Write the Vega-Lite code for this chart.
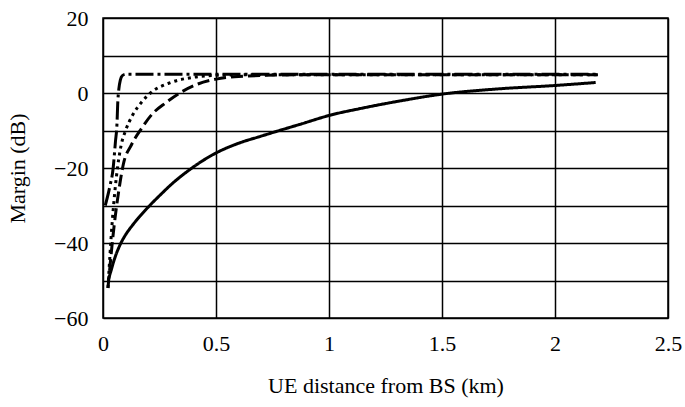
{
  "$schema": "https://vega.github.io/schema/vega-lite/v6.json",
  "autosize": "none",
  "width": 565,
  "height": 300,
  "padding": {"left": 103, "top": 18, "right": 17, "bottom": 89},
  "background": "white",
  "config": {
    "font": "Liberation Serif",
    "view": {"stroke": "black", "strokeWidth": 1.5},
    "axis": {"labelColor": "black", "titleColor": "black", "titleFontWeight": "normal", "labelFontSize": 22, "titleFontSize": 22, "gridColor": "black", "gridOpacity": 1, "gridWidth": 1.5, "domain": false, "ticks": false}
  },
  "data": {
    "values": [
      {"s": "A", "x": 0.024, "y": -49.7},
      {"s": "A", "x": 0.035, "y": -47.5},
      {"s": "A", "x": 0.05, "y": -44.4},
      {"s": "A", "x": 0.077, "y": -40.3},
      {"s": "A", "x": 0.1, "y": -37.8},
      {"s": "A", "x": 0.13, "y": -35.3},
      {"s": "A", "x": 0.16, "y": -33.1},
      {"s": "A", "x": 0.21, "y": -29.8},
      {"s": "A", "x": 0.26, "y": -26.8},
      {"s": "A", "x": 0.3, "y": -24.5},
      {"s": "A", "x": 0.38, "y": -20.6},
      {"s": "A", "x": 0.44, "y": -18.1},
      {"s": "A", "x": 0.5, "y": -16},
      {"s": "A", "x": 0.6, "y": -13.4},
      {"s": "A", "x": 0.7, "y": -11.5},
      {"s": "A", "x": 0.77, "y": -10.2},
      {"s": "A", "x": 0.88, "y": -8.2},
      {"s": "A", "x": 1.0, "y": -6.0},
      {"s": "A", "x": 1.15, "y": -4.0},
      {"s": "A", "x": 1.316, "y": -2.1},
      {"s": "A", "x": 1.5, "y": -0.3},
      {"s": "A", "x": 1.75, "y": 1.1},
      {"s": "A", "x": 2.0, "y": 2.0},
      {"s": "A", "x": 2.18, "y": 2.8},

      {"s": "B", "x": 0.022, "y": -52},
      {"s": "B", "x": 0.05, "y": -35},
      {"s": "B", "x": 0.07, "y": -26},
      {"s": "B", "x": 0.09, "y": -19},
      {"s": "B", "x": 0.126, "y": -13.8},
      {"s": "B", "x": 0.17, "y": -9.5},
      {"s": "B", "x": 0.215, "y": -5.8},
      {"s": "B", "x": 0.28, "y": -2.5},
      {"s": "B", "x": 0.34, "y": 0},
      {"s": "B", "x": 0.42, "y": 2.4},
      {"s": "B", "x": 0.5, "y": 3.7},
      {"s": "B", "x": 0.6, "y": 4.4},
      {"s": "B", "x": 0.8, "y": 4.8},
      {"s": "B", "x": 1.0, "y": 4.9},
      {"s": "B", "x": 2.19, "y": 4.9},

      {"s": "C", "x": 0.022, "y": -52},
      {"s": "C", "x": 0.04, "y": -35},
      {"s": "C", "x": 0.06, "y": -22},
      {"s": "C", "x": 0.08, "y": -14},
      {"s": "C", "x": 0.1, "y": -10},
      {"s": "C", "x": 0.13, "y": -6},
      {"s": "C", "x": 0.17, "y": -2.5},
      {"s": "C", "x": 0.21, "y": 0},
      {"s": "C", "x": 0.3, "y": 2.8},
      {"s": "C", "x": 0.4, "y": 4.2},
      {"s": "C", "x": 0.5, "y": 4.7},
      {"s": "C", "x": 0.7, "y": 4.9},
      {"s": "C", "x": 2.19, "y": 4.9},

      {"s": "D", "x": 0.01, "y": -30},
      {"s": "D", "x": 0.03, "y": -25},
      {"s": "D", "x": 0.045, "y": -20},
      {"s": "D", "x": 0.055, "y": -13},
      {"s": "D", "x": 0.062, "y": -8},
      {"s": "D", "x": 0.065, "y": -3},
      {"s": "D", "x": 0.07, "y": 1},
      {"s": "D", "x": 0.077, "y": 3.5},
      {"s": "D", "x": 0.085, "y": 4.6},
      {"s": "D", "x": 0.1, "y": 5},
      {"s": "D", "x": 2.19, "y": 5}
    ]
  },
  "mark": {"type": "line", "color": "black", "strokeWidth": 3, "clip": true, "interpolate": "monotone"},
  "encoding": {
    "x": {
      "field": "x", "type": "quantitative",
      "scale": {"domain": [0, 2.5], "nice": false, "zero": false},
      "axis": {"values": [0, 0.5, 1, 1.5, 2, 2.5], "format": "~g", "labelFont": "Liberation Serif", "titleFont": "Liberation Serif", "labelPadding": 15, "title": "UE distance from BS (km)", "titlePadding": 21, "labelFlush": false}
    },
    "y": {
      "field": "y", "type": "quantitative",
      "scale": {"domain": [-60, 20], "nice": false},
      "axis": {"values": [-60, -50, -40, -30, -20, -10, 0, 10, 20], "labelFont": "Liberation Serif", "titleFont": "Liberation Serif", "labelExpr": "datum.value % 20 == 0 ? datum.label : ''", "labelPadding": 15, "title": "Margin (dB)", "titlePadding": 24, "labelFlush": false}
    },
    "detail": {"field": "s", "type": "nominal"},
    "strokeDash": {
      "field": "s", "type": "nominal",
      "scale": {"domain": ["A", "B", "C", "D"], "range": [[1, 0], [12, 5], [3, 4], [18, 4, 3, 4]]},
      "legend": null
    }
  }
}
